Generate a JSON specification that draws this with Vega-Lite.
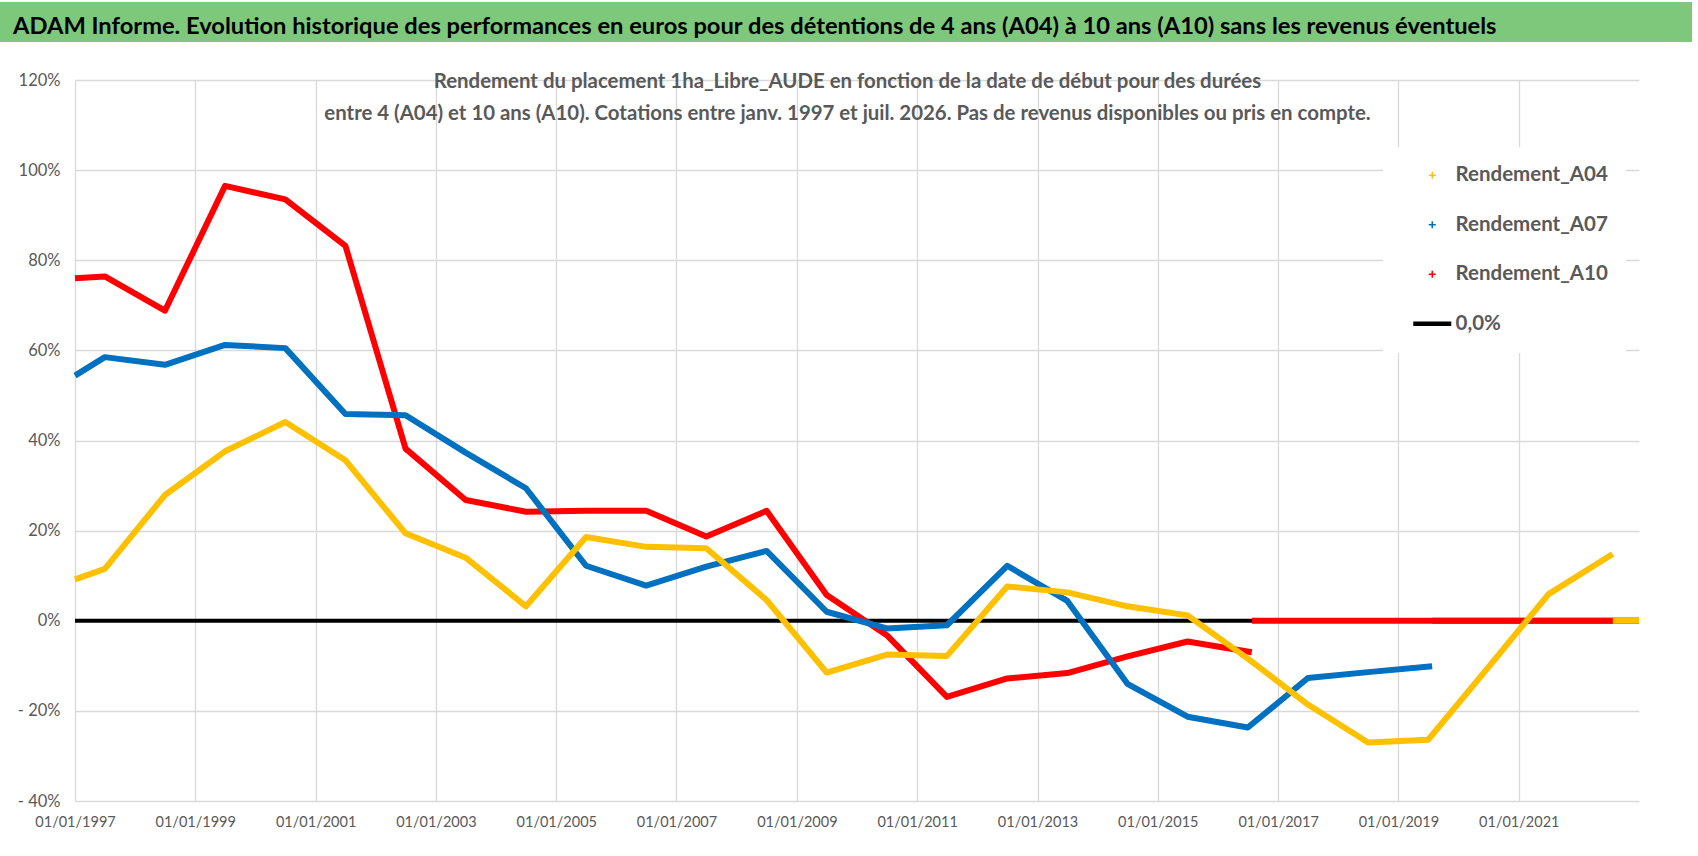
{
  "$schema": "https://vega.github.io/schema/vega-lite/v6.json",
  "background": "white",
  "padding": {"left": 0, "top": 2, "right": 0, "bottom": 0},
  "spacing": 29,
  "resolve": {"legend": {"color": "independent"}},
  "config": {
    "font": "Lato, sans-serif",
    "view": {"stroke": null}
  },
  "vconcat": [
    {
      "width": 1692,
      "height": 40,
      "view": {"fill": "#7ec87c", "stroke": null},
      "title": {
        "text": "ADAM Informe. Evolution historique des performances en euros pour des détentions de 4 ans (A04) à 10 ans (A10) sans les revenus éventuels",
        "anchor": "start",
        "frame": "group",
        "dx": 13,
        "offset": -37,
        "fontSize": 23.7,
        "fontWeight": "bold",
        "color": "#000000"
      },
      "data": {"values": []},
      "mark": "text"
    },
    {
      "width": 1639,
      "height": 721,
      "title": {
        "text": [
          "Rendement du placement 1ha_Libre_AUDE en fonction de la date de début pour des durées",
          "entre 4 (A04) et 10 ans (A10).  Cotations entre janv. 1997 et juil. 2026. Pas de revenus disponibles ou pris en compte."
        ],
        "anchor": "middle",
        "frame": "group",
        "dx": 28,
        "offset": -52,
        "lineHeight": 32,
        "fontSize": 20.4,
        "fontWeight": "bold",
        "color": "#595959"
      },
      "data": {
        "values": [
          {"date": "1997-01-01", "serie": "0,0%", "seg": 1, "v": 0},
          {"date": "2023-01-01", "serie": "0,0%", "seg": 1, "v": 0},

          {"date": "2019-07-26", "serie": "Rendement_A07", "seg": 2, "v": 0},
          {"date": "2023-01-01", "serie": "Rendement_A07", "seg": 2, "v": 0},

          {"date": "2016-07-26", "serie": "Rendement_A10", "seg": 2, "v": 0},
          {"date": "2023-01-01", "serie": "Rendement_A10", "seg": 2, "v": 0},

          {"date": "1997-01-01", "serie": "Rendement_A10", "seg": 1, "v": 76.0},
          {"date": "1997-07-01", "serie": "Rendement_A10", "seg": 1, "v": 76.4},
          {"date": "1998-07-01", "serie": "Rendement_A10", "seg": 1, "v": 68.8},
          {"date": "1999-07-01", "serie": "Rendement_A10", "seg": 1, "v": 96.5},
          {"date": "2000-07-01", "serie": "Rendement_A10", "seg": 1, "v": 93.5},
          {"date": "2001-07-01", "serie": "Rendement_A10", "seg": 1, "v": 83.2},
          {"date": "2002-07-01", "serie": "Rendement_A10", "seg": 1, "v": 38.2},
          {"date": "2003-07-01", "serie": "Rendement_A10", "seg": 1, "v": 26.8},
          {"date": "2004-07-01", "serie": "Rendement_A10", "seg": 1, "v": 24.2},
          {"date": "2005-07-01", "serie": "Rendement_A10", "seg": 1, "v": 24.4},
          {"date": "2006-07-01", "serie": "Rendement_A10", "seg": 1, "v": 24.4},
          {"date": "2007-07-01", "serie": "Rendement_A10", "seg": 1, "v": 18.7},
          {"date": "2008-07-01", "serie": "Rendement_A10", "seg": 1, "v": 24.4},
          {"date": "2009-07-01", "serie": "Rendement_A10", "seg": 1, "v": 5.7},
          {"date": "2010-07-01", "serie": "Rendement_A10", "seg": 1, "v": -3.2},
          {"date": "2011-07-01", "serie": "Rendement_A10", "seg": 1, "v": -16.9},
          {"date": "2012-07-01", "serie": "Rendement_A10", "seg": 1, "v": -12.8},
          {"date": "2013-07-01", "serie": "Rendement_A10", "seg": 1, "v": -11.6},
          {"date": "2014-07-01", "serie": "Rendement_A10", "seg": 1, "v": -7.9},
          {"date": "2015-07-01", "serie": "Rendement_A10", "seg": 1, "v": -4.6},
          {"date": "2016-07-25", "serie": "Rendement_A10", "seg": 1, "v": -7.0},

          {"date": "1997-01-01", "serie": "Rendement_A07", "seg": 1, "v": 54.4},
          {"date": "1997-07-01", "serie": "Rendement_A07", "seg": 1, "v": 58.5},
          {"date": "1998-07-01", "serie": "Rendement_A07", "seg": 1, "v": 56.8},
          {"date": "1999-07-01", "serie": "Rendement_A07", "seg": 1, "v": 61.2},
          {"date": "2000-07-01", "serie": "Rendement_A07", "seg": 1, "v": 60.5},
          {"date": "2001-07-01", "serie": "Rendement_A07", "seg": 1, "v": 45.9},
          {"date": "2002-07-01", "serie": "Rendement_A07", "seg": 1, "v": 45.6},
          {"date": "2003-07-01", "serie": "Rendement_A07", "seg": 1, "v": 37.3},
          {"date": "2004-07-01", "serie": "Rendement_A07", "seg": 1, "v": 29.4},
          {"date": "2005-07-01", "serie": "Rendement_A07", "seg": 1, "v": 12.2},
          {"date": "2006-07-01", "serie": "Rendement_A07", "seg": 1, "v": 7.8},
          {"date": "2007-07-01", "serie": "Rendement_A07", "seg": 1, "v": 12.0},
          {"date": "2008-07-01", "serie": "Rendement_A07", "seg": 1, "v": 15.5},
          {"date": "2009-07-01", "serie": "Rendement_A07", "seg": 1, "v": 2.0},
          {"date": "2010-07-01", "serie": "Rendement_A07", "seg": 1, "v": -1.7},
          {"date": "2011-07-01", "serie": "Rendement_A07", "seg": 1, "v": -1.0},
          {"date": "2012-07-01", "serie": "Rendement_A07", "seg": 1, "v": 12.2},
          {"date": "2013-07-01", "serie": "Rendement_A07", "seg": 1, "v": 4.4},
          {"date": "2014-07-01", "serie": "Rendement_A07", "seg": 1, "v": -14.0},
          {"date": "2015-07-01", "serie": "Rendement_A07", "seg": 1, "v": -21.3},
          {"date": "2016-07-01", "serie": "Rendement_A07", "seg": 1, "v": -23.7},
          {"date": "2017-07-01", "serie": "Rendement_A07", "seg": 1, "v": -12.7},
          {"date": "2018-07-01", "serie": "Rendement_A07", "seg": 1, "v": -11.4},
          {"date": "2019-07-25", "serie": "Rendement_A07", "seg": 1, "v": -10.1},

          {"date": "1997-01-01", "serie": "Rendement_A04", "seg": 1, "v": 9.2},
          {"date": "1997-07-01", "serie": "Rendement_A04", "seg": 1, "v": 11.5},
          {"date": "1998-07-01", "serie": "Rendement_A04", "seg": 1, "v": 27.9},
          {"date": "1999-07-01", "serie": "Rendement_A04", "seg": 1, "v": 37.6},
          {"date": "2000-07-01", "serie": "Rendement_A04", "seg": 1, "v": 44.1},
          {"date": "2001-07-01", "serie": "Rendement_A04", "seg": 1, "v": 35.6},
          {"date": "2002-07-01", "serie": "Rendement_A04", "seg": 1, "v": 19.4},
          {"date": "2003-07-01", "serie": "Rendement_A04", "seg": 1, "v": 14.0},
          {"date": "2004-07-01", "serie": "Rendement_A04", "seg": 1, "v": 3.2},
          {"date": "2005-07-01", "serie": "Rendement_A04", "seg": 1, "v": 18.6},
          {"date": "2006-07-01", "serie": "Rendement_A04", "seg": 1, "v": 16.4},
          {"date": "2007-07-01", "serie": "Rendement_A04", "seg": 1, "v": 16.1},
          {"date": "2008-07-01", "serie": "Rendement_A04", "seg": 1, "v": 4.6},
          {"date": "2009-07-01", "serie": "Rendement_A04", "seg": 1, "v": -11.5},
          {"date": "2010-07-01", "serie": "Rendement_A04", "seg": 1, "v": -7.5},
          {"date": "2011-07-01", "serie": "Rendement_A04", "seg": 1, "v": -7.8},
          {"date": "2012-07-01", "serie": "Rendement_A04", "seg": 1, "v": 7.6},
          {"date": "2013-07-01", "serie": "Rendement_A04", "seg": 1, "v": 6.3},
          {"date": "2014-07-01", "serie": "Rendement_A04", "seg": 1, "v": 3.2},
          {"date": "2015-07-01", "serie": "Rendement_A04", "seg": 1, "v": 1.2},
          {"date": "2016-07-01", "serie": "Rendement_A04", "seg": 1, "v": -8.4},
          {"date": "2017-07-01", "serie": "Rendement_A04", "seg": 1, "v": -18.6},
          {"date": "2018-07-01", "serie": "Rendement_A04", "seg": 1, "v": -27.0},
          {"date": "2019-07-01", "serie": "Rendement_A04", "seg": 1, "v": -26.4},
          {"date": "2020-07-01", "serie": "Rendement_A04", "seg": 1, "v": -10.3},
          {"date": "2021-07-01", "serie": "Rendement_A04", "seg": 1, "v": 5.9},
          {"date": "2022-07-25", "serie": "Rendement_A04", "seg": 1, "v": 14.8},

          {"date": "2022-07-26", "serie": "Rendement_A04", "seg": 2, "v": 0},
          {"date": "2023-01-01", "serie": "Rendement_A04", "seg": 2, "v": 0}
        ]
      },
      "mark": {"type": "line", "strokeCap": "butt", "strokeJoin": "round"},
      "encoding": {
        "x": {
          "field": "date",
          "type": "temporal",
          "scale": {
            "type": "utc",
            "domain": [
              {"year": 1997, "month": 1, "date": 1, "utc": true},
              {"year": 2023, "month": 1, "date": 1, "utc": true}
            ],
            "range": [75, 1639],
            "nice": false
          },
          "axis": {
            "title": null,
            "values": [
              {"year": 1997, "month": 1, "date": 1, "utc": true},
              {"year": 1999, "month": 1, "date": 1, "utc": true},
              {"year": 2001, "month": 1, "date": 1, "utc": true},
              {"year": 2003, "month": 1, "date": 1, "utc": true},
              {"year": 2005, "month": 1, "date": 1, "utc": true},
              {"year": 2007, "month": 1, "date": 1, "utc": true},
              {"year": 2009, "month": 1, "date": 1, "utc": true},
              {"year": 2011, "month": 1, "date": 1, "utc": true},
              {"year": 2013, "month": 1, "date": 1, "utc": true},
              {"year": 2015, "month": 1, "date": 1, "utc": true},
              {"year": 2017, "month": 1, "date": 1, "utc": true},
              {"year": 2019, "month": 1, "date": 1, "utc": true},
              {"year": 2021, "month": 1, "date": 1, "utc": true}
            ],
            "labelExpr": "utcFormat(datum.value, '%d/%m/%Y')",
            "labelOverlap": false,
            "labelFlush": false,
            "labelFontSize": 14.5,
            "labelColor": "#595959",
            "labelPadding": 14,
            "domain": false,
            "ticks": false,
            "tickSize": 0,
            "grid": true,
            "gridColor": "#d9d9d9",
            "gridWidth": 1.3
          }
        },
        "y": {
          "field": "v",
          "type": "quantitative",
          "scale": {"domain": [-40, 120], "nice": false, "zero": false},
          "axis": {
            "title": null,
            "offset": -75,
            "values": [-40, -20, 0, 20, 40, 60, 80, 100, 120],
            "labelExpr": "datum.value < 0 ? '- ' + (-datum.value) + '%' : datum.value + '%'",
            "labelFontSize": 16.5,
            "labelColor": "#595959",
            "labelPadding": 15,
            "domain": false,
            "ticks": false,
            "tickSize": 0,
            "grid": true,
            "gridColor": "#d9d9d9",
            "gridWidth": 1.3
          }
        },
        "color": {
          "field": "serie",
          "type": "nominal",
          "scale": {
            "domain": ["Rendement_A04", "Rendement_A07", "Rendement_A10", "0,0%"],
            "range": ["#ffc000", "#0070c0", "#ff0000", "#000000"]
          },
          "legend": {
            "title": null,
            "orient": "none",
            "legendX": 1383,
            "legendY": 67,
            "fillColor": "white",
            "padding": 18,
            "symbolSize": 1444,
            "symbolOffset": 21,
            "rowPadding": 28.5,
            "labelOffset": 13,
            "labelLimit": 400,
            "labelFontSize": 20.5,
            "labelFontWeight": "bold",
            "labelColor": "#595959",
            "encode": {
              "symbols": {
                "update": {
                  "shape": {"signal": "datum.value === '0,0%' ? 'stroke' : 'M-1,0H1M0,-1V1'"},
                  "size": {"signal": "datum.value === '0,0%' ? 1444 : 49"},
                  "strokeWidth": {"signal": "datum.value === '0,0%' ? 4.5 : 1.5"}
                }
              }
            }
          }
        },
        "detail": {"field": "seg"},
        "strokeWidth": {
          "condition": {"test": "datum.serie === '0,0%'", "value": 4},
          "value": 6
        }
      }
    }
  ]
}
